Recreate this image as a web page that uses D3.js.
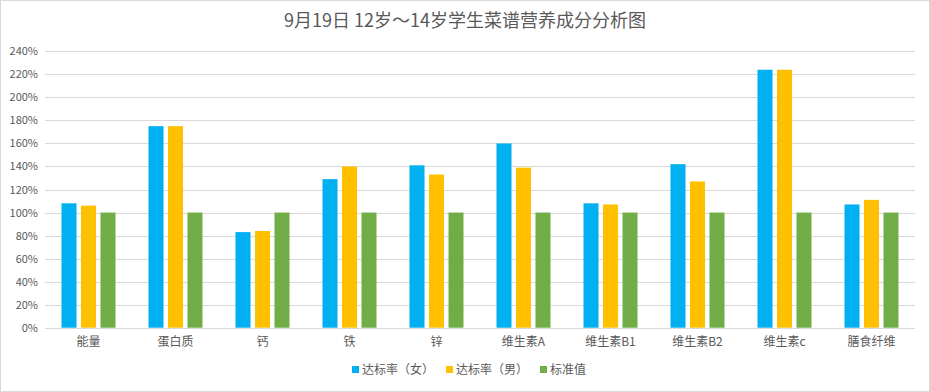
<!DOCTYPE html>
<html><head><meta charset="utf-8">
<script src="https://cdn.jsdelivr.net/npm/d3@7"></script>
<style>body{margin:0;background:#fff}svg{display:block}</style>
</head><body>
<script>
const categories = ["能量","蛋白质","钙","铁","锌","维生素A","维生素B1","维生素B2","维生素c","膳食纤维"];
const female = [108,175,83,129,141,160,108,142,224,107];
const male = [106,175,84,140,133,139,107,127,224,111];
const standard = [100,100,100,100,100,100,100,100,100,100];
const seriesNames = ["达标率（女）","达标率（男）","标准值"];
const colors = ["#00B0F0","#FFC000","#70AD47"];
const yTicks = [0,20,40,60,80,100,120,140,160,180,200,220,240];
const title = "9月19日 12岁～14岁学生菜谱营养成分分析图";

const W=930,H=392;
const font = "'Noto Sans CJK SC','Noto Sans',sans-serif";
const svg = d3.select("body").append("svg").attr("width",W).attr("height",H);
svg.append("rect").attr("x",0.5).attr("y",0.5).attr("width",W-1).attr("height",H-1).attr("fill","#fff").attr("stroke","#d9d9d9");

const m={l:45,r:15,t:51.3,b:64.3};
const x0=d3.scaleBand().domain(categories).range([m.l,W-m.r]);
const y=d3.scaleLinear().domain([0,240]).range([H-m.b,m.t]);

svg.append("text").attr("x",465).attr("y",27).attr("text-anchor","middle")
  .attr("font-family",font).attr("font-size",18).attr("fill","#595959").text(title);

const g=svg.append("g");
g.selectAll("line.grid").data(yTicks).join("line").attr("class","grid")
  .attr("x1",m.l).attr("x2",W-m.r).attr("y1",d=>Math.round(y(d))+0.5).attr("y2",d=>Math.round(y(d))+0.5)
  .attr("stroke","#d9d9d9").attr("stroke-width",1);
g.selectAll("text.yl").data(yTicks).join("text").attr("class","yl")
  .attr("x",38).attr("y",d=>y(d)+4).attr("text-anchor","end")
  .attr("font-family",font).attr("font-size",11).attr("fill","#595959").text(d=>d+"%");

const data=[female,male,standard];
const bw=15, step=19.5;
data.forEach((arr,si)=>{
  g.selectAll("rect.s"+si).data(arr).join("rect").attr("class","s"+si)
    .attr("x",(d,i)=>x0(categories[i])+x0.bandwidth()/2+(si-1)*step-bw/2)
    .attr("y",d=>y(d)).attr("width",bw).attr("height",d=>y(0)-y(d)).attr("fill",colors[si]);
});

g.selectAll("text.xl").data(categories).join("text").attr("class","xl")
  .attr("x",d=>x0(d)+x0.bandwidth()/2).attr("y",346).attr("text-anchor","middle")
  .attr("font-family",font).attr("font-size",12).attr("fill","#595959").text(d=>d);

// legend
const lg=svg.append("g");
const lx=[352,446,540];
seriesNames.forEach((n,i)=>{
  lg.append("rect").attr("x",lx[i]).attr("y",366).attr("width",7).attr("height",7).attr("fill",colors[i]);
  lg.append("text").attr("x",lx[i]+10).attr("y",374).attr("font-family",font).attr("font-size",12)
    .attr("fill","#595959").text(n);
});
</script>
</body></html>
